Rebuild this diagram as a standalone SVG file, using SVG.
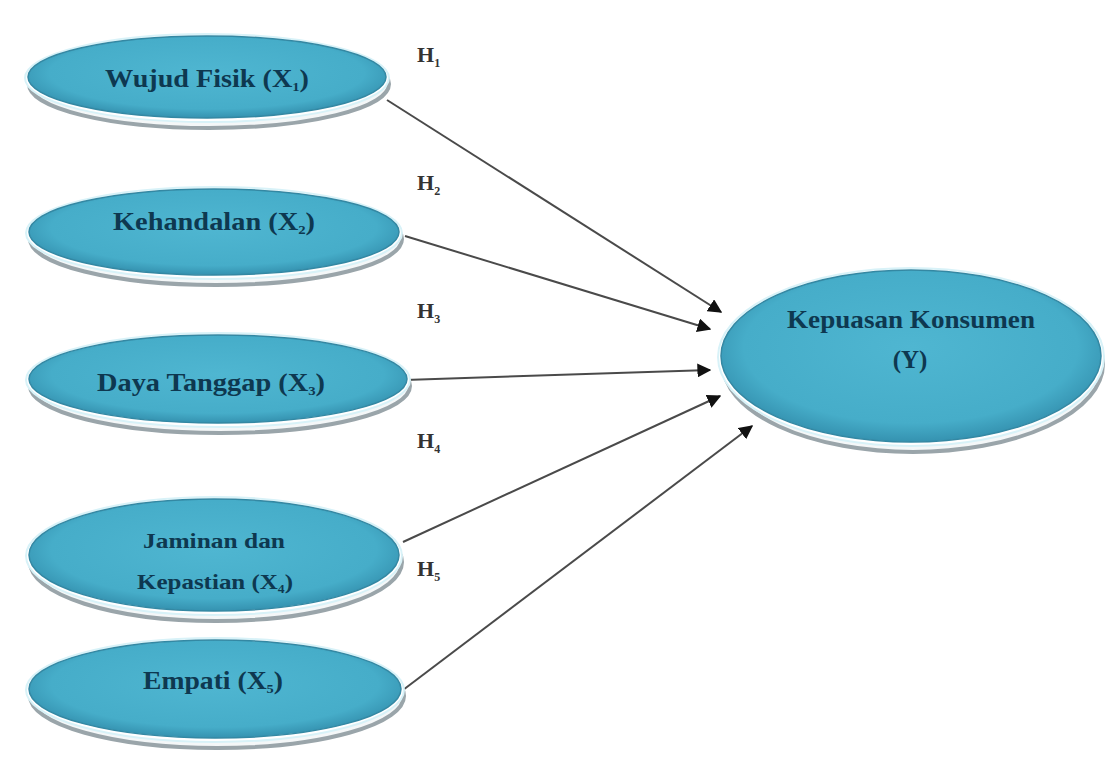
<svg xmlns="http://www.w3.org/2000/svg" width="1107" height="760" viewBox="0 0 1107 760">
<defs>
<radialGradient id="fill" cx="50%" cy="45%" r="55%">
<stop offset="0%" stop-color="#4fb6d1"/>
<stop offset="80%" stop-color="#46adc9"/>
<stop offset="100%" stop-color="#3592b0"/>
</radialGradient>
<marker id="arr" viewBox="0 0 10 10" refX="9" refY="5" markerWidth="7" markerHeight="7" markerUnits="strokeWidth" orient="auto">
<path d="M0,0 L10,5 L0,10 z" fill="#111"/>
</marker>
</defs>
<style>
.shadow{fill:#f4f7f8;stroke:#9aa5aa;stroke-width:4}
.rim{fill:#ffffff;stroke:#d8f2f8;stroke-width:2}
.body{fill:url(#fill);stroke:#3488a3;stroke-width:1.5}
.lbl{font-family:"Liberation Serif","Times New Roman",serif;fill:#0e3850;text-anchor:middle;font-weight:bold}
.h{font-family:"Liberation Serif","Times New Roman",serif;fill:#333;font-size:22px;font-weight:bold}
.sub{font-size:12px}
.conn{stroke:#4a4a4a;stroke-width:2;fill:none;marker-end:url(#arr)}
</style>
<rect width="1107" height="760" fill="#ffffff"/>

<g id="connectors">
<line class="conn" x1="387" y1="100" x2="721" y2="312"/>
<line class="conn" x1="405" y1="236" x2="710" y2="329"/>
<line class="conn" x1="405" y1="380" x2="710" y2="370"/>
<line class="conn" x1="403" y1="542" x2="720" y2="396"/>
<line class="conn" x1="403" y1="690" x2="752" y2="426"/>
</g>

<g id="labels">
<text class="h" x="417" y="62">H<tspan class="sub" dy="5">1</tspan></text>
<text class="h" x="417" y="190">H<tspan class="sub" dy="5">2</tspan></text>
<text class="h" x="417" y="318">H<tspan class="sub" dy="5">3</tspan></text>
<text class="h" x="417" y="448">H<tspan class="sub" dy="5">4</tspan></text>
<text class="h" x="417" y="576">H<tspan class="sub" dy="5">5</tspan></text>
</g>

<g id="node-x1">
<ellipse class="shadow" cx="209" cy="84" rx="180" ry="44"/>
<ellipse class="rim" cx="207" cy="78" rx="182" ry="44"/>
<ellipse class="body" cx="207" cy="77" rx="179" ry="41"/>
<text class="lbl" x="207" y="87" font-size="25" textLength="204" lengthAdjust="spacingAndGlyphs">Wujud Fisik (X<tspan font-size="13" dy="4">1</tspan><tspan dy="-4">)</tspan></text>
</g>

<g id="node-x2">
<ellipse class="shadow" cx="216" cy="239" rx="186" ry="46"/>
<ellipse class="rim" cx="214" cy="233" rx="188" ry="46"/>
<ellipse class="body" cx="214" cy="232" rx="185" ry="43"/>
<text class="lbl" x="214" y="230" font-size="25" textLength="202" lengthAdjust="spacingAndGlyphs">Kehandalan (X<tspan font-size="13" dy="4">2</tspan><tspan dy="-4">)</tspan></text>
</g>

<g id="node-x3">
<ellipse class="shadow" cx="220" cy="386" rx="190" ry="47"/>
<ellipse class="rim" cx="218" cy="380" rx="192" ry="47"/>
<ellipse class="body" cx="218" cy="379" rx="189" ry="44"/>
<text class="lbl" x="211" y="391" font-size="25" textLength="228" lengthAdjust="spacingAndGlyphs">Daya Tanggap (X<tspan font-size="13" dy="4">3</tspan><tspan dy="-4">)</tspan></text>
</g>

<g id="node-x4">
<ellipse class="shadow" cx="216" cy="562" rx="186" ry="59"/>
<ellipse class="rim" cx="214" cy="556" rx="188" ry="59"/>
<ellipse class="body" cx="214" cy="555" rx="185" ry="56"/>
<text class="lbl" x="214" y="548" font-size="22" textLength="142" lengthAdjust="spacingAndGlyphs">Jaminan dan</text>
<text class="lbl" x="215" y="589" font-size="22" textLength="156" lengthAdjust="spacingAndGlyphs">Kepastian (X<tspan font-size="12" dy="4">4</tspan><tspan dy="-4">)</tspan></text>
</g>

<g id="node-x5">
<ellipse class="shadow" cx="217" cy="696" rx="187" ry="52"/>
<ellipse class="rim" cx="215" cy="690" rx="189" ry="52"/>
<ellipse class="body" cx="215" cy="689" rx="186" ry="49"/>
<text class="lbl" x="213" y="689" font-size="25" textLength="140" lengthAdjust="spacingAndGlyphs">Empati (X<tspan font-size="13" dy="4">5</tspan><tspan dy="-4">)</tspan></text>
</g>

<g id="node-y">
<ellipse class="shadow" cx="913" cy="364" rx="190" ry="88"/>
<ellipse class="rim" cx="911" cy="357" rx="193" ry="89"/>
<ellipse class="body" cx="911" cy="356" rx="190" ry="86"/>
<text class="lbl" x="911" y="328" font-size="25" textLength="248" lengthAdjust="spacingAndGlyphs">Kepuasan Konsumen</text>
<text class="lbl" x="910" y="368" font-size="25">(Y)</text>
</g>
</svg>
